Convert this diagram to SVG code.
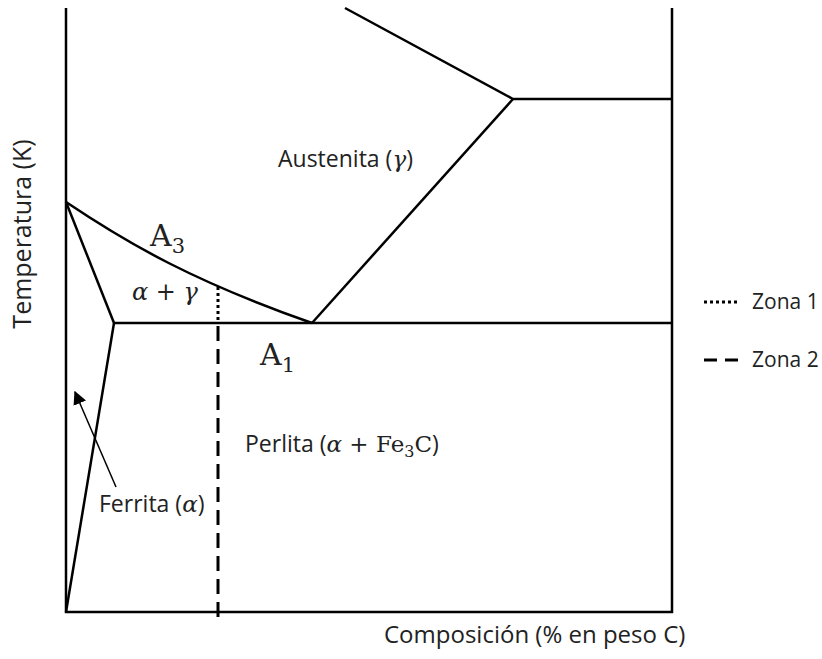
<svg xmlns="http://www.w3.org/2000/svg" width="822" height="659" viewBox="0 0 822 659">
<style>
.ln{fill:none;stroke:#000;stroke-width:2.5;stroke-linecap:butt}
.dot{fill:none;stroke:#000;stroke-width:3;stroke-dasharray:3 3}
.dash{fill:none;stroke:#000;stroke-width:3;stroke-dasharray:15 8}
.lbl{font-family:"Open Sans","Liberation Sans",sans-serif;font-size:23px;fill:#222}
.math{font-family:"DejaVu Serif","Liberation Serif",serif;fill:#222}
.it{font-style:italic}
</style>
<defs>
<marker id="ah" viewBox="0 0 10 10" refX="9" refY="5" markerWidth="9" markerHeight="9" orient="auto">
<path d="M0,0 L10,5 L0,10 z" fill="#000"/>
</marker>
</defs>
<rect width="822" height="659" fill="#fff"/>
<g id="connectors">
<path class="ln" d="M66,8 V612 H672 V8"/>
<path class="ln" d="M345,8 L513,99 H672"/>
<path class="ln" d="M513,99 L312,323"/>
<path class="ln" d="M66,202 C130,245 195,282 312,323"/>
<path class="ln" d="M66,202 L114,323"/>
<path class="ln" d="M114,323 H672"/>
<path class="ln" d="M66,612 L114,323"/>
<path class="dot" d="M218,287 V323"/>
<path class="dash" d="M218,326 V619"/>
<path fill="none" stroke="#000" stroke-width="1.5" d="M116,487 L75,392" marker-end="url(#ah)"/>
</g>
<g id="austenita"><text class="lbl" x="278" y="167">Austenita (<tspan class="math it">γ</tspan>)</text></g>
<g id="a3"><text class="math" x="150" y="246" style="font-size:30px">A<tspan style="font-size:21px" dy="7">3</tspan></text></g>
<g id="alfagamma"><text class="math it" x="132" y="300" style="font-size:24px">α<tspan font-style="normal"> + </tspan>γ</text></g>
<g id="a1"><text class="math" x="260" y="365" style="font-size:30px">A<tspan style="font-size:21px" dy="7">1</tspan></text></g>
<g id="perlita"><text class="lbl" x="245" y="452">Perlita (<tspan class="math it">α</tspan><tspan class="math"> + Fe</tspan><tspan class="math" style="font-size:16px" dy="5">3</tspan><tspan class="math" dy="-5">C</tspan>)</text></g>
<g id="ferrita"><text class="lbl" x="99" y="512">Ferrita (<tspan class="math it">α</tspan>)</text></g>
<g id="legend">
<path class="dot" d="M704,302 H738"/>
<text class="lbl" x="752" y="309" style="font-size:21px">Zona 1</text>
<path class="dash" d="M704,360 H740" style="stroke-dasharray:13 8"/>
<text class="lbl" x="752" y="367" style="font-size:21px">Zona 2</text>
</g>
<g id="ylabel"><text class="lbl" style="font-size:25px" transform="translate(31,234) rotate(-90)" text-anchor="middle">Temperatura (K)</text></g>
<g id="xlabel"><text class="lbl" style="font-size:24px" x="384" y="643">Composición (% en peso C)</text></g>
</svg>
